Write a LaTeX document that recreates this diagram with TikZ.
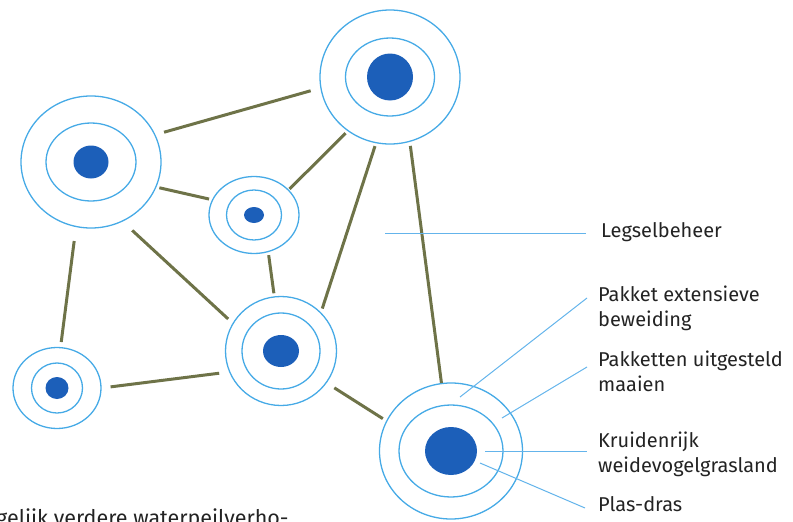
\documentclass[tikz,border=0pt]{standalone}
\usepackage{fontspec}
\setmainfont{Fira Sans}
\usetikzlibrary{shapes.geometric}
\definecolor{ringblue}{RGB}{70,170,230}
\definecolor{dotblue}{RGB}{28,95,185}
\definecolor{linkolive}{RGB}{110,115,72}
\definecolor{lineblue}{RGB}{100,180,235}
\definecolor{textgray}{RGB}{35,35,35}
\begin{document}
\begin{tikzpicture}[x=1pt, y=-1pt,
        ring/.style = {draw=ringblue, line width=1.3pt, ellipse, inner sep=0pt},
        dot/.style = {fill=dotblue, ellipse, inner sep=0pt},
        link/.style = {draw=linkolive, line width=3pt},
        pointer/.style = {draw=lineblue, line width=1pt},
        label/.style = {inner sep=0pt, align=left, anchor=north west, text=textgray, font=\fontsize{20}{25}\selectfont}]
        \useasboundingbox (0,0) rectangle (793,522);
        \clip (0,0) rectangle (793,522);
        \node[ring, minimum width=140pt, minimum height=132pt] (1) at (91,162) {};
        \node[ring, minimum width=90pt, minimum height=78pt] (1b) at (91,162) {};
        \node[dot, minimum width=35pt, minimum height=33pt] (1c) at (91,162) {};
        \node[ring, minimum width=140pt, minimum height=134pt] (2) at (390,77) {};
        \node[ring, minimum width=89pt, minimum height=78pt] (2b) at (390,77) {};
        \node[dot, minimum width=46pt, minimum height=47pt] (2c) at (390,77) {};
        \node[ring, minimum width=90pt, minimum height=77pt] (3) at (254,215) {};
        \node[ring, minimum width=55pt, minimum height=50pt] (3b) at (254,215) {};
        \node[dot, minimum width=20pt, minimum height=16pt] (3c) at (254,215) {};
        \node[ring, minimum width=88pt, minimum height=81pt] (4) at (57,388) {};
        \node[ring, minimum width=51pt, minimum height=50pt] (4b) at (57,388) {};
        \node[dot, minimum width=23pt, minimum height=22pt] (4c) at (57,388) {};
        \node[ring, minimum width=111pt, minimum height=109pt] (5) at (281,351) {};
        \node[ring, minimum width=78pt, minimum height=76pt] (5b) at (281,351) {};
        \node[dot, minimum width=36pt, minimum height=32pt] (5c) at (281,351) {};
        \node[ring, minimum width=143pt, minimum height=136pt] (6) at (451,451) {};
        \node[ring, minimum width=104pt, minimum height=92pt] (6b) at (451,451) {};
        \node[dot, minimum width=52pt, minimum height=48pt] (6c) at (451,451) {};
        \draw[link, shorten <=9pt, shorten >=10pt] (1.23) -- (2.189);
        \draw[link, shorten <=3pt, shorten >=3pt] (1.339) -- (3.160);
        \draw[link, shorten <=13pt, shorten >=6pt] (1.298) -- (5.150);
        \draw[link, shorten <=14pt, shorten >=5pt] (1.257) -- (4.85);
        \draw[link, shorten <=1pt, shorten >=3pt] (3.36) -- (2.232);
        \draw[link, shorten <=3pt, shorten >=3pt] (3.291) -- (5.97);
        \draw[link, shorten <=3pt, shorten >=4pt] (2.258) -- (5.44);
        \draw[link, shorten <=4pt] (2.287) -- (6.98);
        \draw[link, shorten <=9pt, shorten >=10pt] (4.0) -- (5.202);
        \draw[link, shorten <=9pt, shorten >=4pt] (5.325) -- (6.155);
        \node[label] (7) at (601,222) {Legselbeheer};
        \node[label] (8) at (598,286) {Pakket extensieve\\beweiding};
        \node[label] (9) at (598,351) {Pakketten uitgesteld\\maaien};
        \node[label] (10) at (598,432) {Kruidenrijk\\weidevogelgrasland};
        \node[label] (11) at (598,496) {Plas-dras};
        \node[label, anchor=base west, font=\fontsize{21.5}{25}\selectfont] (12) at (-4,525) {gelijk verdere waterpeilverho-};
        \coordinate (l1) at (385,233);
        \coordinate (l2) at (460,397);
        \coordinate (l3) at (502,418);
        \coordinate (l4) at (485,451);
        \coordinate (l5) at (480,463);
        \draw[pointer] (l1) -- ([xshift=-15pt,yshift=-11pt]7.north west);
        \draw[pointer] (l2) -- ([xshift=-11pt,yshift=-12pt]8.north west);
        \draw[pointer] (l3) -- ([xshift=-11pt,yshift=-16pt]9.north west);
        \draw[pointer] (l4) -- ([xshift=-11pt,yshift=-19pt]10.north west);
        \draw[pointer] (l5) -- ([xshift=-13pt,yshift=-12pt]11.north west);
    \end{tikzpicture}
\end{document}
